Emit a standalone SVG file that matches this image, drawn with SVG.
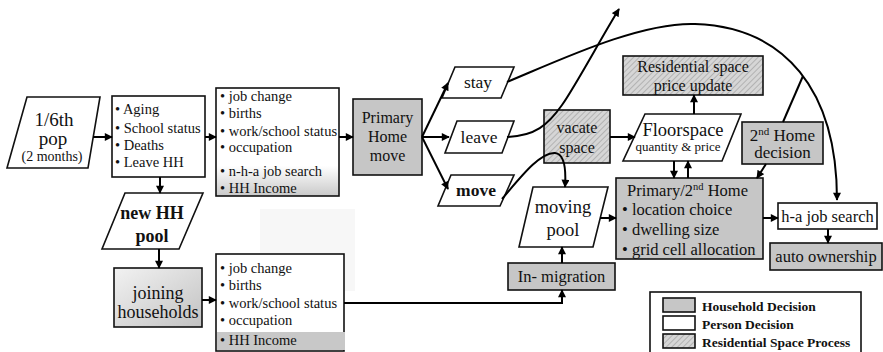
<svg xmlns="http://www.w3.org/2000/svg" width="883" height="352" viewBox="0 0 883 352" font-family="Liberation Serif, Times New Roman, serif">
  <defs>
    <style>
      text { font-family: 'Liberation Serif', 'Times New Roman', serif; fill: #111; }
      .box { stroke: #111; stroke-width: 1.6; }
      .hh { fill: #c6c6c6; }
      .person { fill: #ffffff; }
      .space { fill: url(#hatch); }
      .conn { fill: none; stroke: #000; stroke-width: 2; }
      .arr { marker-end: url(#ah); }
      .c { text-anchor: middle; }
      .li { font-size: 14.5px; }
      .lg { font-size: 13.5px; font-weight: bold; }
    </style>
    <pattern id="hatch" width="4" height="4" patternUnits="userSpaceOnUse" patternTransform="rotate(45)">
      <rect width="4" height="4" fill="#d6d6d6"/>
      <line x1="0" y1="0" x2="0" y2="4" stroke="#9a9a9a" stroke-width="1.2"/>
    </pattern>
    <linearGradient id="fadeBottom" x1="0" y1="0" x2="0" y2="1">
      <stop offset="0" stop-color="#ffffff"/>
      <stop offset="0.72" stop-color="#ffffff"/>
      <stop offset="1" stop-color="#c9c9c9"/>
    </linearGradient>
    <linearGradient id="joinFill" x1="0" y1="0" x2="1" y2="1">
      <stop offset="0" stop-color="#f2f2f2"/>
      <stop offset="1" stop-color="#c2c2c2"/>
    </linearGradient>
    <marker id="ah" viewBox="0 0 10 10" refX="9" refY="5" markerWidth="9" markerHeight="8" markerUnits="userSpaceOnUse" orient="auto">
      <path d="M0,0 L10,5 L0,10 z" fill="#000"/>
    </marker>
  </defs>

  <rect width="883" height="352" fill="#ffffff"/>
  <!-- faint backdrop patch -->
  <rect x="260" y="209" width="95" height="82" fill="#f7f7f7"/>

  <g id="pop">
    <polygon class="box person" points="27,97 100,97 88,168 7,168"/>
    <text class="c" x="54" y="126" font-size="19">1/6th</text>
    <text class="c" x="53" y="145" font-size="19">pop</text>
    <text class="c" x="52" y="161" font-size="14">(2 months)</text>
  </g>

  <g id="aging">
    <rect class="box person" x="112" y="96" width="93" height="81"/>
    <text class="li" x="115" y="114">• Aging</text>
    <text class="li" x="115" y="133">• School status</text>
    <text class="li" x="115" y="150">• Deaths</text>
    <text class="li" x="115" y="167">• Leave HH</text>
  </g>

  <g id="person-events">
    <rect class="box" x="216" y="88" width="123" height="108" fill="url(#fadeBottom)"/>
    <text class="li" x="220" y="101">• job change</text>
    <text class="li" x="220" y="118">• births</text>
    <text class="li" x="220" y="136">• work/school status</text>
    <text class="li" x="220" y="152">•  occupation</text>
    <text class="li" x="220" y="176">• n-h-a  job search</text>
    <text class="li" x="220" y="193">•  HH Income</text>
  </g>

  <g id="primary-move">
    <rect class="box hh" x="353" y="99" width="69" height="76"/>
    <text class="c" x="387.5" y="123" font-size="16">Primary</text>
    <text class="c" x="387.5" y="142" font-size="16">Home</text>
    <text class="c" x="387.5" y="161" font-size="16">move</text>
  </g>

  <g id="stay">
    <polygon class="box person" points="455,67 514,67 501,98 442,98"/>
    <text class="c" x="478" y="88" font-size="17.5">stay</text>
  </g>

  <g id="leave">
    <polygon class="box person" points="457,121 514,121 502,153 445,153"/>
    <text class="c" x="479" y="143" font-size="17.5">leave</text>
  </g>

  <g id="move">
    <polygon class="box person" points="451,175 514,175 500,206 438,206"/>
    <text class="c" x="476" y="196" font-size="17.5" font-weight="bold">move</text>
  </g>

  <g id="vacate">
    <rect class="box space" x="544" y="110" width="66" height="53"/>
    <text class="c" x="577" y="133" font-size="16" fill="#333">vacate</text>
    <text class="c" x="577" y="153" font-size="16" fill="#333">space</text>
  </g>

  <g id="price-update">
    <rect class="box space" x="623" y="56" width="140" height="39"/>
    <text class="c" x="693" y="72" font-size="16" fill="#333">Residential space</text>
    <text class="c" x="693" y="91" font-size="16" fill="#333">price update</text>
  </g>

  <g id="floorspace">
    <polygon class="box person" points="645,114 741,114 722,161 623,161"/>
    <text class="c" x="683" y="136" font-size="18.5">Floorspace</text>
    <text class="c" x="678" y="151" font-size="13">quantity &amp; price</text>
  </g>

  <g id="second-home">
    <rect class="box hh" x="742" y="122" width="81" height="42"/>
    <text class="c" x="782.5" y="141" font-size="17">2<tspan font-size="11" dy="-6">nd</tspan><tspan dy="6"> Home</tspan></text>
    <text class="c" x="782.5" y="158" font-size="17">decision</text>
  </g>

  <g id="moving-pool">
    <polygon class="box person" points="533,187 608,187 593,247 519,247"/>
    <text class="c" x="563" y="213" font-size="18.5">moving</text>
    <text class="c" x="563" y="236" font-size="18.5">pool</text>
  </g>

  <g id="in-migration">
    <rect class="box hh" x="508" y="263" width="107" height="27"/>
    <text class="c" x="561.5" y="282" font-size="16.5">In- migration</text>
  </g>

  <g id="location-choice">
    <rect class="box hh" x="616" y="178" width="147" height="81"/>
    <text x="627" y="196" font-size="16.5">Primary/2<tspan font-size="10.5" dy="-6">nd</tspan><tspan dy="6"> Home</tspan></text>
    <text x="622" y="215" font-size="16.5">• location choice</text>
    <text x="622" y="235" font-size="16.5">• dwelling size</text>
    <text x="622" y="255" font-size="16.5">• grid cell allocation</text>
  </g>

  <g id="job-search">
    <rect class="box person" x="778" y="203" width="99" height="26"/>
    <text class="c" x="827.5" y="222" font-size="16.5">h-a job search</text>
  </g>

  <g id="auto-ownership">
    <rect class="box hh" x="770" y="243" width="112" height="27"/>
    <text class="c" x="826" y="262" font-size="16.5">auto ownership</text>
  </g>

  <g id="new-hh-pool">
    <polygon class="box person" points="125,193 203,193 179,249 102,249"/>
    <text class="c" x="152" y="219" font-size="18" font-weight="bold">new HH</text>
    <text class="c" x="152" y="242" font-size="18" font-weight="bold">pool</text>
  </g>

  <g id="joining">
    <rect class="box" x="114" y="268" width="88" height="59" fill="url(#joinFill)"/>
    <text class="c" x="158" y="299" font-size="18">joining</text>
    <text class="c" x="158" y="318" font-size="18">households</text>
  </g>

  <g id="joining-events">
    <rect class="box person" x="216" y="254" width="128" height="97"/>
    <rect x="217" y="332" width="128" height="18" fill="#c8c8c8"/>
    <text class="li" x="220" y="273">•  job change</text>
    <text class="li" x="220" y="290">•  births</text>
    <text class="li" x="220" y="308">•   work/school status</text>
    <text class="li" x="220" y="325">•  occupation</text>
    <text class="li" x="220" y="345">•  HH Income</text>
  </g>

  <g id="connectors">
    <path class="conn arr" d="M93,137 H112"/>
    <path class="conn arr" d="M205,137 H216"/>
    <path class="conn arr" d="M339,137 H353"/>
    <path class="conn arr" d="M160,177 V193"/>
    <path class="conn arr" d="M159,249 V268"/>
    <path class="conn arr" d="M202,300 H216"/>
    <path class="conn arr" d="M422,137 L448,83"/>
    <path class="conn arr" d="M422,137 H449"/>
    <path class="conn arr" d="M422,137 L448,189"/>
    <path class="conn arr" d="M507,82 C560,60 640,22 695,24 C785,27 837,90 837,200"/>
    <path class="conn arr" d="M507,137 C535,136 548,125 562,105 S600,40 619,9"/>
    <path class="conn arr" d="M502,199 C520,178 540,152 555,153 C565,154 566,172 565,187"/>
    <path class="conn arr" d="M600,218 H616"/>
    <path class="conn arr" d="M562,263 V247"/>
    <path class="conn arr" d="M344,303 H562 V290"/>
    <path class="conn arr" d="M610,137 H635"/>
    <path class="conn arr" d="M694,114 V95"/>
    <path class="conn arr" d="M674,161 V178"/>
    <path class="conn arr" d="M688,178 V161"/>
    <path class="conn arr" d="M766,164 L757,178"/>
    <path class="conn" d="M783,122 L803,76"/>
    <path class="conn arr" d="M763,218 H778"/>
    <path class="conn arr" d="M828,229 V243"/>
  </g>

  <g id="legend">
    <rect x="650" y="292" width="211" height="70" fill="#ffffff" stroke="#111" stroke-width="1.6"/>
    <rect class="box hh" x="663" y="298" width="32" height="14"/>
    <text class="lg" x="702" y="311">Household Decision</text>
    <rect class="box person" x="663" y="316" width="32" height="14"/>
    <text class="lg" x="702" y="329">Person Decision</text>
    <rect class="box space" x="663" y="334" width="32" height="14"/>
    <text class="lg" x="702" y="347">Residential Space Process</text>
  </g>
</svg>
